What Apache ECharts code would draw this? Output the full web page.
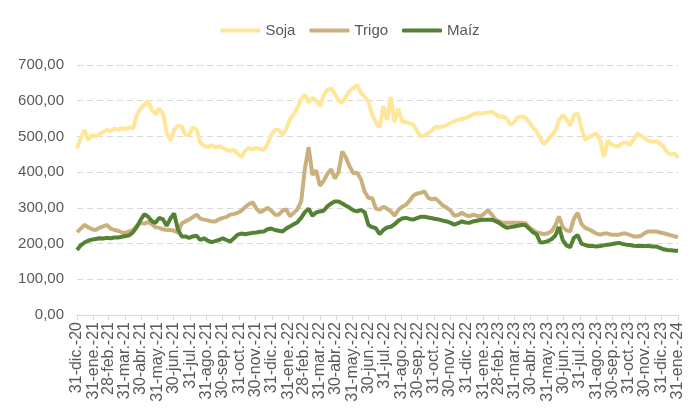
<!DOCTYPE html>
<html>
<head>
<meta charset="utf-8">
<script src="https://cdn.jsdelivr.net/npm/echarts@6/dist/echarts.min.js"></script>
<style>
  html, body { margin: 0; padding: 0; background: #fff; }
  #chart { width: 700px; height: 420px; }
</style>
</head>
<body>
<div id="chart"></div>
<script>
// precios semanales (USD/t), desde 31-dic-20; el último valor es el 31-ene-24
var inicio = Date.UTC(2020, 11, 31);
var fin = Date.UTC(2024, 0, 31);
var paso = 7;

var meses = ['ene', 'feb', 'mar', 'abr', 'may', 'jun', 'jul', 'ago', 'sep', 'oct', 'nov', 'dic'];

var soja = [467,495,518,490,504,500,506,512,518,515,
  522,518,524,520,526,522,560,578,588,600,
  575,562,578,565,510,488,518,530,528,505,
  505,525,520,482,474,470,476,468,472,468,
  462,460,462,452,442,460,468,464,468,465,
  462,478,505,518,518,505,520,548,562,580,
  605,616,595,608,600,585,615,630,635,620,
  600,595,612,628,636,644,622,610,598,560,
  540,525,585,546,610,540,578,541,540,537,
  533,515,500,503,508,518,527,525,528,532,
  538,542,546,548,552,556,562,565,564,566,
  567,569,562,555,556,550,532,540,554,556,
  553,540,525,514,495,478,490,503,515,546,
  560,548,530,560,565,525,490,498,504,508,
  490,442,488,478,474,472,482,482,476,492,
  508,502,494,487,486,486,480,472,455,450,
  452,440];

var trigo = [232,242,252,246,240,238,244,248,252,242,
  238,236,231,230,234,238,250,258,256,260,
  255,246,244,240,238,238,236,230,256,262,
  267,274,281,270,267,265,262,262,268,272,
  274,281,283,286,292,302,310,316,298,288,
  293,300,292,281,281,292,296,276,286,296,
  318,410,470,392,405,362,375,395,408,382,
  400,458,440,415,397,398,380,345,328,327,
  298,295,303,298,290,278,294,303,308,320,
  334,340,342,346,328,324,326,316,306,300,
  292,278,280,286,280,276,281,278,276,284,
  293,282,267,262,258,258,258,258,258,258,
  257,246,238,232,229,226,229,234,250,276,
  246,237,234,270,286,255,244,240,234,228,
  225,228,228,225,225,225,228,228,224,220,
  220,222,230,234,234,234,231,229,226,223,
  220,218];

var maiz = [182,195,203,208,211,213,215,214,216,215,
  217,217,219,221,223,232,246,266,282,276,
  263,258,272,268,250,270,284,240,220,220,
  216,220,222,210,215,208,204,207,210,215,
  210,206,215,225,228,226,228,230,231,233,
  234,240,242,238,236,234,242,248,254,260,
  272,288,298,278,287,290,292,304,312,318,
  318,312,306,300,293,290,294,288,252,246,
  243,226,238,245,247,254,264,270,272,269,
  267,271,275,275,273,271,269,267,264,262,
  258,253,257,262,259,258,262,264,266,267,
  267,267,263,258,250,244,246,248,250,252,
  252,242,232,226,203,204,207,212,222,246,
  210,195,190,216,224,200,196,193,193,192,
  193,195,197,198,200,202,199,197,196,194,
  193,193,193,193,192,192,188,184,182,181,
  180,180];

// eje de categorías: un día por categoría
var dias = [];
for (var t = inicio; t <= fin; t += 86400000) {
  dias.push(new Date(t).toISOString().slice(0, 10));
}

function finDeMes(s) {
  var d = new Date(s + 'T00:00:00Z');
  var sig = new Date(d.getTime() + 86400000);
  return sig.getUTCDate() === 1;
}

function etiqueta(s) {
  var d = new Date(s + 'T00:00:00Z');
  return d.getUTCDate() + '-' + meses[d.getUTCMonth()] + '.-' + String(d.getUTCFullYear()).slice(2);
}

function puntos(vals) {
  var ultimo = dias.length - 1;
  return vals.map(function (v, i) {
    var x = i === vals.length - 1 ? ultimo : i * paso;
    return [x, v];
  });
}

var myChart = echarts.init(document.getElementById('chart'));
var fuente = 'Liberation Sans';

myChart.setOption({
  animation: false,
  legend: {
    top: 18,
    left: 'center',
    icon: 'roundRect',
    itemWidth: 40,
    itemHeight: 4,
    itemGap: 14,
    textStyle: { color: '#595959', fontSize: 15, fontFamily: fuente },
    data: ['Soja', 'Trigo', 'Maíz']
  },
  grid: { left: 77, right: 22, top: 65, bottom: 105 },
  xAxis: {
    type: 'category',
    boundaryGap: false,
    data: dias,
    axisLine: { lineStyle: { color: '#D9D9D9', width: 1 } },
    axisTick: {
      interval: function (i, v) { return finDeMes(v); },
      length: 5,
      lineStyle: { color: '#D9D9D9' }
    },
    axisLabel: {
      interval: function (i, v) { return finDeMes(v); },
      rotate: 90,
      margin: 7,
      color: '#595959',
      fontSize: 16,
      fontFamily: fuente,
      formatter: etiqueta
    },
    splitLine: { show: false }
  },
  yAxis: {
    type: 'value',
    min: 0,
    max: 700,
    interval: 100,
    axisLine: { show: false },
    axisTick: { show: false },
    axisLabel: {
      margin: 13,
      color: '#595959',
      fontSize: 15,
      fontFamily: fuente,
      formatter: function (v) { return v.toFixed(2).replace('.', ','); }
    },
    splitLine: { lineStyle: { color: '#D9D9D9', type: [6, 4], width: 1 } }
  },
  series: [
    { name: 'Soja', type: 'line', data: puntos(soja), showSymbol: false,
      lineStyle: { color: '#FFE699', width: 4 }, itemStyle: { color: '#FFE699' } },
    { name: 'Trigo', type: 'line', data: puntos(trigo), showSymbol: false,
      lineStyle: { color: '#C9B07D', width: 4 }, itemStyle: { color: '#C9B07D' } },
    { name: 'Maíz', type: 'line', data: puntos(maiz), showSymbol: false,
      lineStyle: { color: '#548235', width: 4 }, itemStyle: { color: '#548235' } }
  ]
});
</script>
</body>
</html>
